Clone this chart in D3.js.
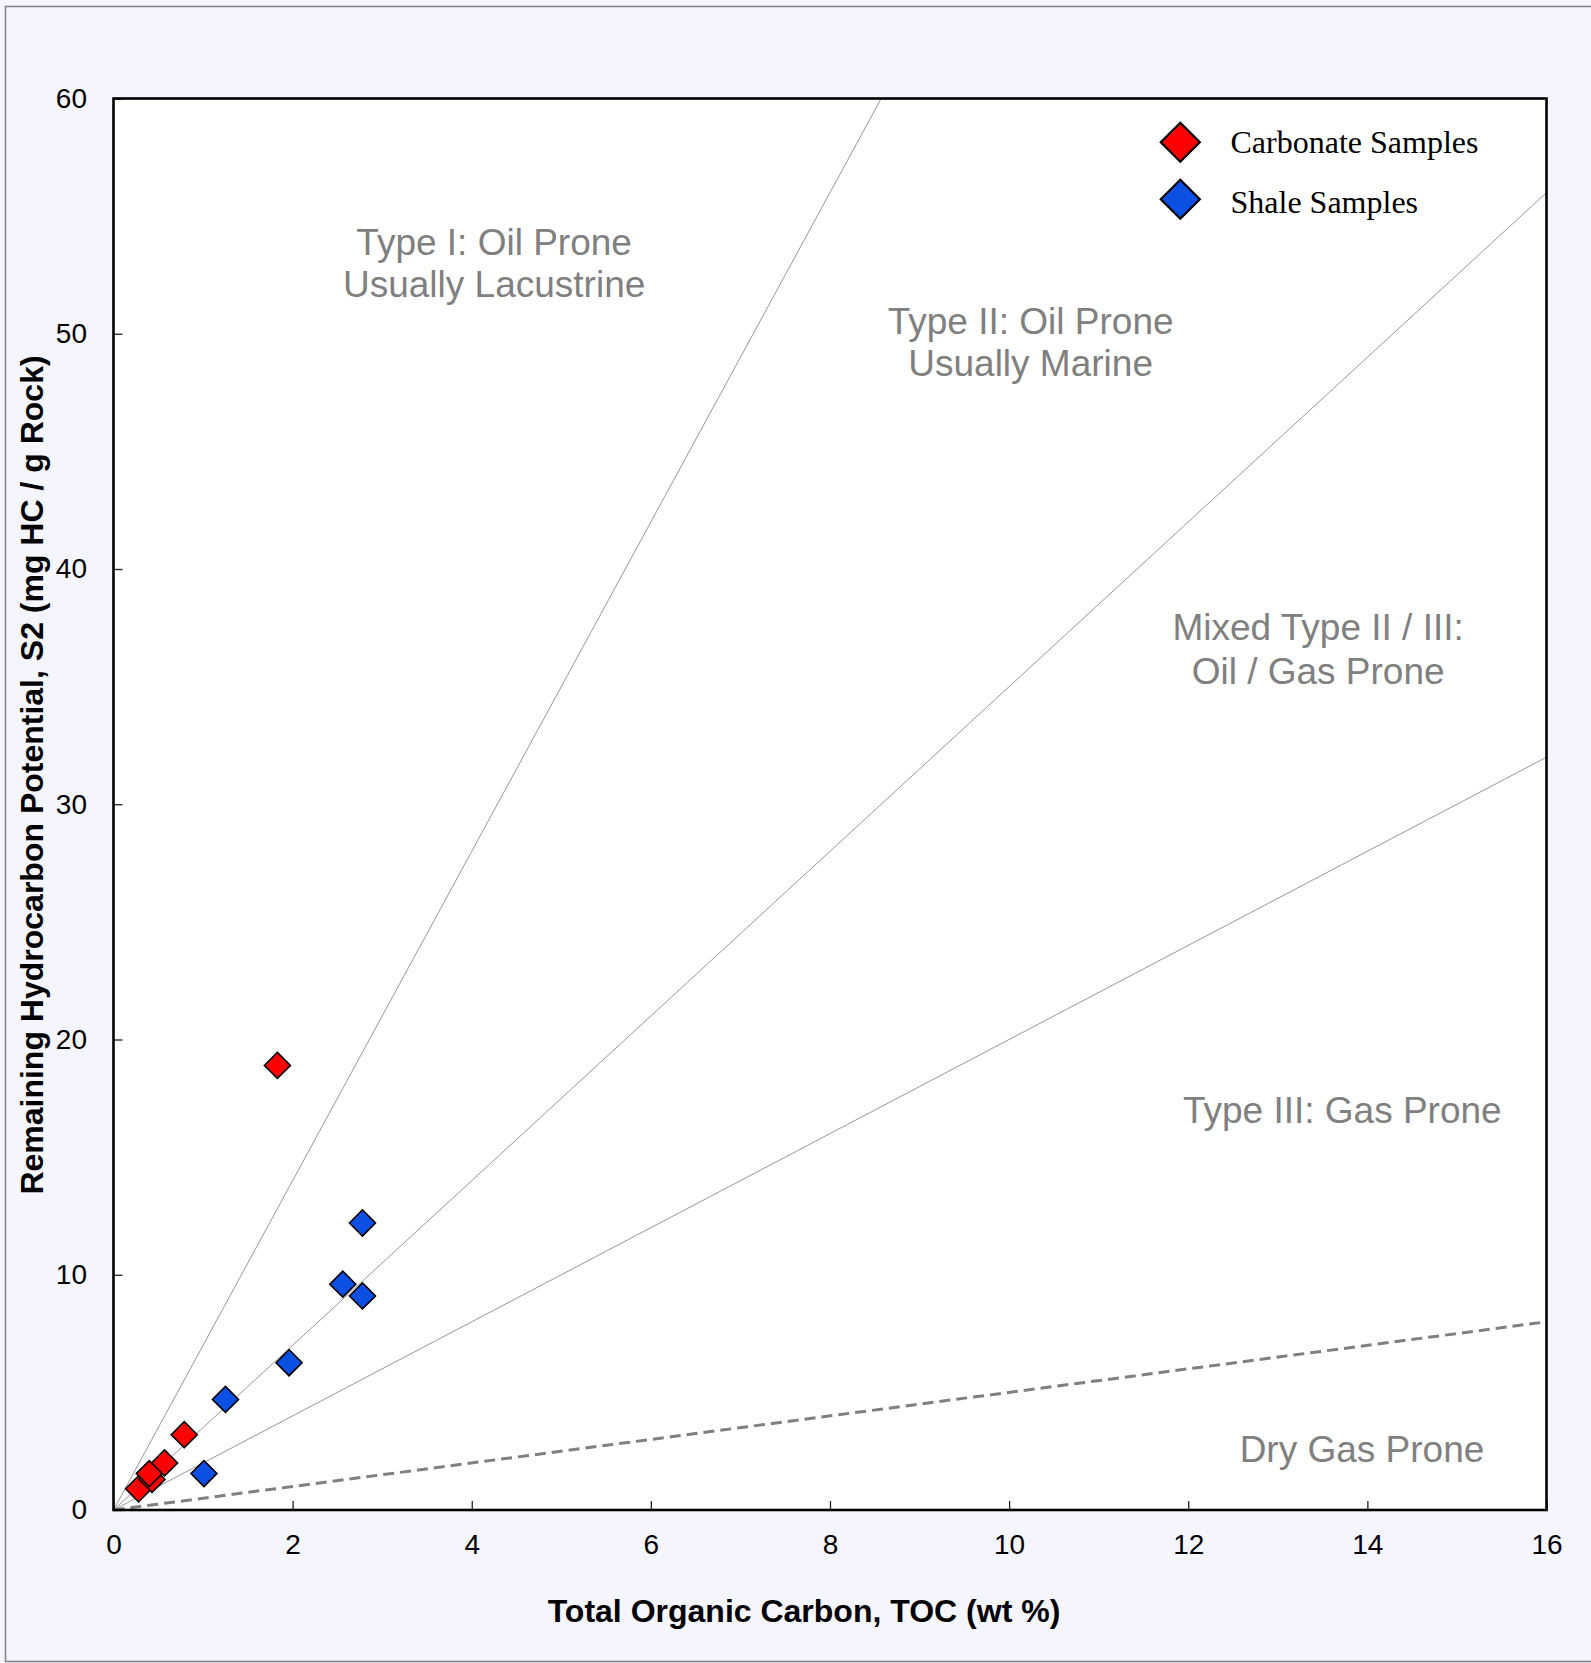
<!DOCTYPE html>
<html>
<head>
<meta charset="utf-8">
<script src="https://cdn.jsdelivr.net/npm/d3@7"></script>
<style>
  html, body { margin: 0; padding: 0; background: #f5f5fd; }
  svg { display: block; }
</style>
</head>
<body>
<svg id="chart" width="1591" height="1663"></svg>
<script>
// Sample data: TOC (wt %) vs S2 (mg HC / g rock)
const carbonateTOC = [0.28, 0.43, 0.40, 0.57, 0.79, 1.83];
const carbonateS2  = [0.90, 1.30, 1.55, 2.00, 3.20, 18.90];
const shaleTOC = [1.01, 1.25, 1.96, 2.56, 2.78, 2.78];
const shaleS2  = [1.55, 4.70, 6.26, 9.60, 12.20, 9.10];

// Hydrogen index boundaries (mg HC / g TOC); S2 = HI * TOC / 100
const kerogenHI = [700, 350, 200];
const dryGasHI = 50;

const xTicks = [0, 2, 4, 6, 8, 10, 12, 14, 16];
const yTicks = [0, 10, 20, 30, 40, 50, 60];

// kerogen-type field labels, anchored in data units (TOC, S2 baseline per line)
const regionLabels = [
  { lines: ["Type I: Oil Prone", "Usually Lacustrine"], toc: 4.25, s2: [53.35, 51.55] },
  { lines: ["Type II: Oil Prone", "Usually Marine"], toc: 10.24, s2: [50.0, 48.2] },
  { lines: ["Mixed Type II / III:", "Oil / Gas Prone"], toc: 13.45, s2: [36.97, 35.12] },
  { lines: ["Type III: Gas Prone"], toc: 13.72, s2: [16.46] },
  { lines: ["Dry Gas Prone"], toc: 13.94, s2: [2.03] }
];

const legendItems = [
  { label: "Carbonate Samples", color: "#ff0000" },
  { label: "Shale Samples", color: "#0b4fe3" }
];

const svg = d3.select("#chart");
const W = 1591, H = 1663;
const plot = { left: 113.5, right: 1546.5, top: 98.5, bottom: 1510 };

// page frame
svg.append("rect")
  .attr("x", 5.5).attr("y", 6.5)
  .attr("width", W + 20).attr("height", H - 8)
  .attr("fill", "#f5f5fd").attr("stroke", "#808080").attr("stroke-width", 1.5);

const x = d3.scaleLinear().domain([0, 16]).range([plot.left, plot.right]);
const y = d3.scaleLinear().domain([0, 60]).range([plot.bottom, plot.top]);

svg.append("rect")
  .attr("x", plot.left).attr("y", plot.top)
  .attr("width", plot.right - plot.left).attr("height", plot.bottom - plot.top)
  .attr("fill", "#ffffff");

svg.append("clipPath").attr("id", "plotClip")
  .append("rect")
  .attr("x", plot.left).attr("y", plot.top)
  .attr("width", plot.right - plot.left).attr("height", plot.bottom - plot.top);

const g = svg.append("g").attr("clip-path", "url(#plotClip)");

// boundary lines through the origin
function hiEnd(hi) {
  const slope = hi / 100;
  const xe = Math.min(16, 60 / slope);
  return [xe, xe * slope];
}
g.selectAll("line.hi").data(kerogenHI).join("line")
  .attr("class", "hi")
  .attr("x1", x(0)).attr("y1", y(0))
  .attr("x2", d => x(hiEnd(d)[0])).attr("y2", d => y(hiEnd(d)[1]))
  .attr("stroke", "#8c8c8c").attr("stroke-width", 0.9);

g.append("line")
  .attr("x1", x(0)).attr("y1", y(0))
  .attr("x2", x(hiEnd(dryGasHI)[0])).attr("y2", y(hiEnd(dryGasHI)[1]))
  .attr("stroke", "#808080").attr("stroke-width", 3)
  .attr("stroke-dasharray", "11,6");

// region labels
regionLabels.forEach(r => {
  r.lines.forEach((t, i) => {
    svg.append("text")
      .attr("x", x(r.toc)).attr("y", y(r.s2[i]))
      .attr("text-anchor", "middle")
      .attr("font-family", "'Liberation Sans', Arial, sans-serif")
      .attr("font-size", 37)
      .attr("fill", "#808080")
      .text(t);
  });
});

// axes with inward ticks
const xAxis = d3.axisBottom(x).tickValues(xTicks).tickSize(-9).tickPadding(24).tickFormat(d3.format("d"));
const yAxis = d3.axisLeft(y).tickValues(yTicks).tickSize(-9).tickPadding(26.5).tickFormat(d3.format("d"));

const gx = svg.append("g").attr("transform", `translate(0,${plot.bottom})`).call(xAxis);
const gy = svg.append("g").attr("transform", `translate(${plot.left},0)`).call(yAxis);
[gx, gy].forEach(a => {
  a.select(".domain").remove();
  a.selectAll(".tick line").attr("stroke", "#222").attr("stroke-width", 1.3);
  a.selectAll(".tick text")
    .attr("font-family", "'Liberation Sans', Arial, sans-serif")
    .attr("font-size", 28).attr("fill", "#000");
});
gx.selectAll(".tick text").attr("dy", "0.71em");

// plot frame
svg.append("rect")
  .attr("x", plot.left).attr("y", plot.top)
  .attr("width", plot.right - plot.left).attr("height", plot.bottom - plot.top)
  .attr("fill", "none").attr("stroke", "#000").attr("stroke-width", 2.6);

// sample markers (squares rotated into diamonds)
function drawSeries(tocs, s2s, color) {
  const pts = tocs.map((t, i) => ({ t, s: s2s[i] }));
  svg.append("g").selectAll("rect").data(pts).join("rect")
    .attr("x", -9.2).attr("y", -9.2).attr("width", 18.4).attr("height", 18.4)
    .attr("transform", d => `translate(${x(d.t)},${y(d.s)}) rotate(45)`)
    .attr("fill", color).attr("stroke", "#000").attr("stroke-width", 1.6);
}
drawSeries(shaleTOC, shaleS2, legendItems[1].color);
drawSeries(carbonateTOC, carbonateS2, legendItems[0].color);

// legend
const legend = svg.append("g");
legendItems.forEach((d, i) => {
  const my = 142.3 + i * 57;
  legend.append("rect")
    .attr("x", -13.8).attr("y", -13.8).attr("width", 27.6).attr("height", 27.6)
    .attr("transform", `translate(1180.3,${my}) rotate(45)`)
    .attr("fill", d.color).attr("stroke", "#000").attr("stroke-width", 2.2);
  legend.append("text")
    .attr("x", 1230.5).attr("y", 152.7 + i * 60)
    .attr("font-family", "'Liberation Serif', 'Times New Roman', serif")
    .attr("font-size", 32).attr("fill", "#000")
    .text(d.label);
});

// axis titles
svg.append("text")
  .attr("x", 804).attr("y", 1622)
  .attr("text-anchor", "middle")
  .attr("font-family", "'Liberation Sans', Arial, sans-serif")
  .attr("font-weight", "bold").attr("font-size", 32)
  .text("Total Organic Carbon, TOC (wt %)");

svg.append("text")
  .attr("transform", "translate(43,775) rotate(-90)")
  .attr("text-anchor", "middle")
  .attr("font-family", "'Liberation Sans', Arial, sans-serif")
  .attr("font-weight", "bold").attr("font-size", 32)
  .text("Remaining Hydrocarbon Potential, S2 (mg HC / g Rock)");
</script>
</body>
</html>
